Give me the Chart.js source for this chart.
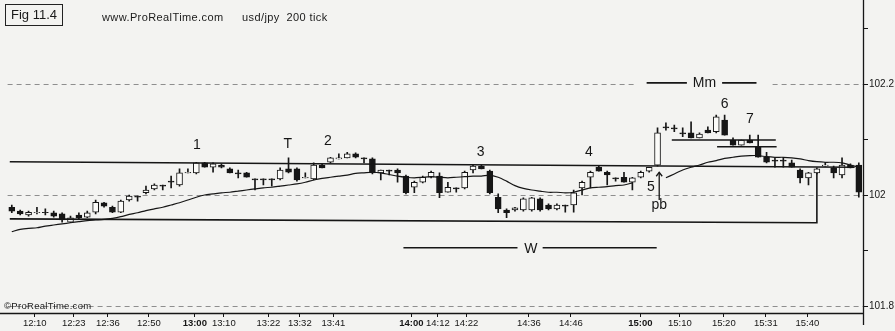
<!DOCTYPE html>
<html><head><meta charset="utf-8">
<script src="https://cdn.jsdelivr.net/npm/chart.js@4.4.1/dist/chart.umd.min.js"></script>
<style>
html,body{margin:0;padding:0;background:#f3f3f1;}
#wrap{position:relative;width:895px;height:331px;overflow:hidden;font-family:"Liberation Sans",Arial,sans-serif;color:#1a1a1a;}
canvas{position:absolute;left:0;top:0;}
.t{position:absolute;white-space:nowrap;}
#fig{left:5px;top:4px;width:56px;height:20px;border:1.5px solid #222;font-size:13px;line-height:20px;text-align:center;}
.h{font-size:11px;letter-spacing:0.4px;top:11px;}
</style></head>
<body><div id="wrap"><canvas id="c" width="895" height="331"></canvas>
<div class="t" id="fig">Fig 11.4</div>
<div class="t h" style="left:102px;">www.ProRealTime.com</div>
<div class="t h" style="left:242px;">usd/jpy&nbsp; 200 tick</div>
<div class="t" style="left:4px;top:300px;font-size:9.5px;letter-spacing:0.3px;">©ProRealTime.com</div>
</div>
<script>
// ---- data (USD/JPY, 200-tick candles) ----
const times   = ['12:10','12:23','12:36','12:50','13:00','13:10','13:22','13:32','13:41','14:00','14:12','14:22','14:36','14:46','15:00','15:10','15:20','15:31','15:40'];
const timeIdx = [2.74,7.39,11.45,16.34,21.82,25.28,30.59,34.34,38.34,47.64,50.8,54.2,61.65,66.66,74.95,79.66,84.9,89.91,94.86];

const open  = [101.978,101.971,101.964,101.968,101.969,101.968,101.966,101.951,101.964,101.960,
               101.969,101.986,101.978,101.969,101.991,101.998,102.004,102.011,102.018,102.025,
               102.018,102.040,102.040,102.058,102.050,102.054,102.047,102.040,102.040,102.029,
               102.029,102.029,102.029,102.047,102.047,102.031,102.029,102.054,102.059,102.065,
               102.067,102.074,102.067,102.065,102.040,102.045,102.045,102.034,102.014,102.023,
               102.032,102.034,102.005,102.013,102.013,102.045,102.052,102.043,101.996,101.973,
               101.973,101.973,101.973,101.993,101.982,101.975,101.982,101.982,102.013,102.032,
               102.050,102.041,102.031,102.032,102.023,102.032,102.043,102.054,102.123,102.121,
               102.112,102.112,102.103,102.117,102.114,102.135,102.099,102.090,102.099,102.086,
               102.068,102.063,102.063,102.058,102.045,102.031,102.040,102.052,102.049,102.036,
               102.054,102.054];
const high  = [101.982,101.973,101.971,101.978,101.975,101.971,101.968,101.962,101.968,101.971,
               101.991,101.987,101.980,101.991,102.000,101.998,102.016,102.020,102.018,102.034,
               102.047,102.047,102.059,102.059,102.058,102.056,102.049,102.045,102.041,102.029,
               102.029,102.029,102.049,102.067,102.049,102.040,102.058,102.056,102.068,102.074,
               102.077,102.076,102.067,102.067,102.045,102.045,102.047,102.036,102.025,102.034,
               102.043,102.040,102.023,102.013,102.043,102.054,102.054,102.045,102.002,101.975,
               101.978,101.995,101.996,101.995,101.984,101.984,101.982,102.009,102.025,102.043,
               102.052,102.043,102.031,102.041,102.032,102.043,102.050,102.121,102.130,102.126,
               102.121,102.132,102.112,102.123,102.144,102.144,102.103,102.099,102.108,102.108,
               102.077,102.067,102.067,102.063,102.047,102.041,102.049,102.059,102.052,102.067,
               102.056,102.058];
const low   = [101.968,101.964,101.962,101.966,101.964,101.960,101.951,101.950,101.957,101.959,
               101.966,101.978,101.968,101.968,101.989,101.989,102.002,102.009,102.009,102.013,
               102.016,102.040,102.038,102.050,102.041,102.049,102.040,102.031,102.032,102.009,
               102.018,102.016,102.027,102.040,102.025,102.031,102.027,102.049,102.058,102.065,
               102.067,102.067,102.058,102.038,102.027,102.036,102.023,102.002,102.004,102.022,
               102.031,101.995,102.005,102.005,102.011,102.040,102.047,102.002,101.968,101.959,
               101.971,101.971,101.971,101.971,101.973,101.973,101.969,101.969,102.000,102.013,
               102.043,102.018,102.025,102.023,102.009,102.031,102.041,102.052,102.117,102.114,
               102.105,102.103,102.103,102.112,102.112,102.108,102.090,102.090,102.094,102.068,
               102.058,102.050,102.050,102.050,102.022,102.018,102.038,102.052,102.031,102.031,
               102.049,101.996];
const close = [101.971,101.966,101.969,101.969,101.968,101.962,101.955,101.959,101.959,101.968,
               101.987,101.980,101.969,101.989,101.998,101.996,102.009,102.018,102.016,102.023,
               102.040,102.041,102.058,102.050,102.056,102.050,102.040,102.038,102.032,102.027,
               102.027,102.027,102.045,102.041,102.027,102.032,102.054,102.049,102.067,102.067,
               102.074,102.068,102.065,102.040,102.045,102.043,102.040,102.004,102.023,102.032,
               102.041,102.004,102.014,102.011,102.041,102.052,102.047,102.004,101.975,101.968,
               101.977,101.993,101.995,101.973,101.975,101.982,101.980,102.004,102.023,102.041,
               102.043,102.036,102.029,102.023,102.031,102.041,102.050,102.112,102.121,102.119,
               102.110,102.103,102.110,102.112,102.141,102.108,102.090,102.099,102.094,102.068,
               102.059,102.061,102.061,102.050,102.031,102.040,102.047,102.054,102.040,102.054,
               102.049,102.005];
const ma    = [101.934,101.938,101.940,101.941,101.944,101.946,101.948,101.950,101.952,101.954,
               101.955,101.956,101.958,101.961,101.965,101.968,101.972,101.975,101.978,101.982,
               101.986,101.991,101.996,102.000,102.002,102.004,102.005,102.007,102.009,102.011,
               102.013,102.014,102.016,102.018,102.020,102.023,102.027,102.030,102.032,102.034,
               102.036,102.039,102.040,102.041,102.040,102.037,102.034,102.032,102.031,102.032,
               102.033,102.032,102.031,102.032,102.033,102.034,102.034,102.036,102.032,102.025,
               102.017,102.012,102.009,102.007,102.005,102.005,102.004,102.005,102.009,102.013,
               102.014,102.015,102.017,102.018,102.022,null,null,null,102.031,102.038,
               102.045,102.050,102.054,102.059,102.062,102.066,102.068,102.070,102.071,102.071,
               102.069,102.068,102.068,102.067,102.065,102.062,102.060,102.059,102.059,102.058,
               102.054,102.050];

const priceTicks      = [101.8, 101.9, 102.0, 102.1, 102.2, 102.3];
const priceTickLabels = ['101.8', '', '102', '', '102.2', ''];

// hand-drawn annotation lines (candle index, price)
const upperLine = [{x:-0.24,y:102.060},{x:100.5,y:102.050}];
const lowerLine = [{x:-0.24,y:101.957},{x:96,y:101.950},{x:96,y:102.040}];
const line6     = [{x:78.7,y:102.099},{x:91.1,y:102.099}];
const line7     = [{x:84.1,y:102.087},{x:91.2,y:102.087}];
const wLeft     = [{x:46.7,y:101.905},{x:60.3,y:101.905}];
const wRight    = [{x:63.3,y:101.905},{x:76.9,y:101.905}];
const mmLeft    = [{x:75.7,y:102.202},{x:80.5,y:102.202}];
const mmRight   = [{x:84.7,y:102.202},{x:88.8,y:102.202}];
const mmGap     = [74.4, 90.4];
const notes = [
  {t:'1', x:22.06, y:102.090}, {t:'T', x:32.9, y:102.092}, {t:'2', x:37.7, y:102.097},
  {t:'3', x:55.9, y:102.077}, {t:'4', x:68.8, y:102.077}, {t:'5', x:76.2, y:102.0144},
  {t:'pb', x:77.2, y:101.982}, {t:'6', x:85.0, y:102.164}, {t:'7', x:88.0, y:102.137},
  {t:'Mm', x:82.6, y:102.2018}, {t:'W', x:61.9, y:101.903}
];
const arrow5 = [{x:77.2, y:101.991}, {x:77.2, y:102.041}];

// ---- chart ----
const bg = '#f3f3f1', ink = '#161616';
const lineDs = (pts) => ({type:'line', data:pts, borderColor:ink, borderWidth:1.6, pointRadius:0, tension:0, order:0});

const annot = {
  id:'annot',
  beforeDatasetsDraw(chart){
    const {ctx, scales:{x, y}} = chart;
    const x1 = x.getPixelForValue(mmGap[0]), x2 = x.getPixelForValue(mmGap[1]);
    const yy = y.getPixelForValue(102.2);
    ctx.save(); ctx.fillStyle = bg; ctx.fillRect(x1, yy-2, x2-x1, 4); ctx.restore();
  },
  afterDatasetsDraw(chart){
    const {ctx, scales:{x, y}} = chart;
    ctx.save();
    ctx.fillStyle = ink; ctx.font = '14px "Liberation Sans", Arial, sans-serif';
    ctx.textAlign = 'center'; ctx.textBaseline = 'middle';
    notes.forEach(n => ctx.fillText(n.t, x.getPixelForValue(n.x), y.getPixelForValue(n.y)));
    const ax = x.getPixelForValue(arrow5[0].x), ay0 = y.getPixelForValue(arrow5[0].y), ay1 = y.getPixelForValue(arrow5[1].y);
    ctx.strokeStyle = ink; ctx.lineWidth = 1.3;
    ctx.beginPath(); ctx.moveTo(ax, ay0); ctx.lineTo(ax, ay1); ctx.stroke();
    ctx.beginPath(); ctx.moveTo(ax-3, ay1+4); ctx.lineTo(ax, ay1); ctx.lineTo(ax+3, ay1+4); ctx.stroke();
    ctx.restore();
  },
  afterDraw(chart){
    const {ctx, chartArea:a} = chart;
    ctx.save(); ctx.strokeStyle = ink; ctx.lineWidth = 1.3;
    ctx.beginPath();
    ctx.moveTo(a.right+0.5, 0); ctx.lineTo(a.right+0.5, a.bottom+12);
    ctx.moveTo(0, a.bottom+0.5); ctx.lineTo(a.right, a.bottom+0.5);
    ctx.stroke(); ctx.restore();
  }
};

new Chart(document.getElementById('c'), {
  data: {
    datasets: [
      {type:'bar', label:'wick', data: open.map((o,i)=>({x:i, y:[low[i], high[i]]})),
       backgroundColor: ink, borderWidth:0, barThickness:1, grouped:false, order:3},
      {type:'bar', label:'body', data: open.map((o,i)=>({x:i, y:[o, close[i]]})),
       backgroundColor: open.map((o,i)=> close[i] < o ? ink : '#fbfbf9'),
       borderColor: ink, borderWidth:1, borderSkipped:false, barThickness:6, grouped:false, order:2},
      {type:'line', label:'ma', data: ma.map((v,i)=>({x:i, y:v})), borderColor:ink, borderWidth:1.2,
       pointRadius:0, spanGaps:false, tension:0.25, order:1},
      lineDs(upperLine), lineDs(lowerLine), lineDs(line6), lineDs(line7),
      lineDs(wLeft), lineDs(wRight), lineDs(mmLeft), lineDs(mmRight)
    ]
  },
  options: {
    responsive:false, animation:false, devicePixelRatio:1,
    layout:{padding:{left:7.6, top:0, right:0, bottom:0}},
    plugins:{legend:{display:false}, tooltip:{enabled:false}, title:{display:false}},
    scales:{
      x:{
        type:'linear', position:'bottom', min:-0.5, max:101.5, offset:false,
        afterBuildTicks: s => { s.ticks = timeIdx.map(v => ({value:v})); },
        afterFit: s => { s.height = 18; s.paddingLeft = 0; s.paddingRight = 0; },
        ticks:{
          autoSkip:false, maxRotation:0, padding:1, color:ink,
          callback: (v, i) => times[i],
          font: ctx => ({family:'"Liberation Sans", Arial, sans-serif', size:9.5,
                         weight: (times[ctx.index]||'').endsWith(':00') ? 'bold' : 'normal'})
        },
        grid:{offset:false, drawOnChartArea:false, drawTicks:true, tickLength:4, tickColor:ink, color:ink},
        border:{display:false}
      },
      y:{
        type:'linear', position:'right', min:101.7874, max:102.3514,
        afterBuildTicks: s => { s.ticks = priceTicks.map(v => ({value:v})); },
        afterFit: s => { s.width = 32; s.paddingTop = 0; s.paddingBottom = 0; },
        ticks:{
          padding:1, color:ink,
          callback: (v, i) => priceTickLabels[i],
          font:{family:'"Liberation Sans", Arial, sans-serif', size:10}
        },
        grid:{
          drawOnChartArea:true, tickLength:5, tickColor:ink, lineWidth:1,
          color: ctx => priceTickLabels[ctx.index] ? '#8e8e8e' : 'rgba(0,0,0,0)'
        },
        border:{display:false, dash:[5,4]}
      }
    }
  },
  plugins:[annot]
});
</script>
</body></html>
